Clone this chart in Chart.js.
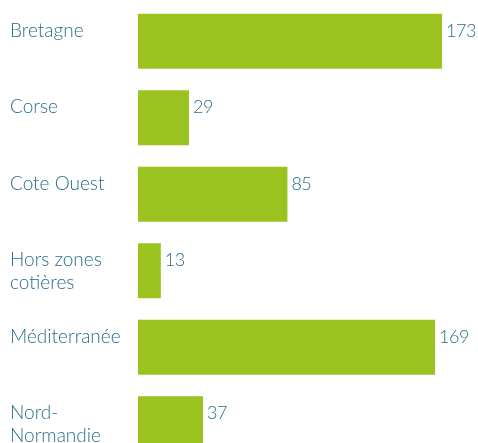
<!DOCTYPE html>
<html>
<head>
<meta charset="utf-8">
<script src="https://cdn.jsdelivr.net/npm/chart.js@4"></script>
<style>
    html, body { margin: 0; padding: 0; background: #fff; overflow: hidden; }
    #wrap { width: 478px; height: 443px; overflow: hidden; }
</style>
</head>
<body>
<div id="wrap"><canvas id="chart" width="478" height="462"></canvas></div>
<script>
// Data
const categories = [
    ['Bretagne'],
    ['Corse'],
    ['Cote Ouest'],
    ['Hors zones', 'cotières'],
    ['Méditerranée'],
    ['Nord-', 'Normandie']
];
const values = [173, 29, 85, 13, 169, 37];

const TEXT_COLOR = '#2a6d8c';
const BAR_COLOR = '#9bc31f';
const FONT = '300 19px Lato, "Open Sans", sans-serif';
const VALUE_FONT = '300 18px Lato, "Open Sans", sans-serif';

// Draw category names and values next to each bar
const labelPlugin = {
    id: 'barLabels',
    afterDatasetsDraw(chart) {
        const ctx = chart.ctx;
        const meta = chart.getDatasetMeta(0);
        ctx.save();
        ctx.fillStyle = TEXT_COLOR;
        ctx.textBaseline = 'alphabetic';
        ctx.textAlign = 'left';
        meta.data.forEach((bar, i) => {
            const top = bar.y - bar.height / 2;
            const base = top + 23;
            ctx.font = FONT;
            ctx.letterSpacing = '0px';
            chart.data.labels[i].forEach((line, j) => {
                ctx.fillText(line, 10, base + j * 23);
            });
            ctx.font = VALUE_FONT;
            ctx.letterSpacing = '-0.5px';
            ctx.fillText(String(values[i]), bar.x + 4, base);
        });
        ctx.restore();
    }
};

new Chart(document.getElementById('chart').getContext('2d'), {
    type: 'bar',
    data: {
        labels: categories,
        datasets: [{
            data: values,
            backgroundColor: BAR_COLOR,
            borderWidth: 0,
            categoryPercentage: 1,
            barPercentage: 0.72
        }]
    },
    options: {
        indexAxis: 'y',
        responsive: false,
        animation: false,
        layout: { padding: { left: 138, right: 6, top: 3, bottom: 0 } },
        plugins: {
            legend: { display: false },
            tooltip: { enabled: false }
        },
        scales: {
            x: { display: false, min: 0, max: 190 },
            y: { display: false }
        }
    },
    plugins: [labelPlugin]
});
</script>
</body>
</html>
